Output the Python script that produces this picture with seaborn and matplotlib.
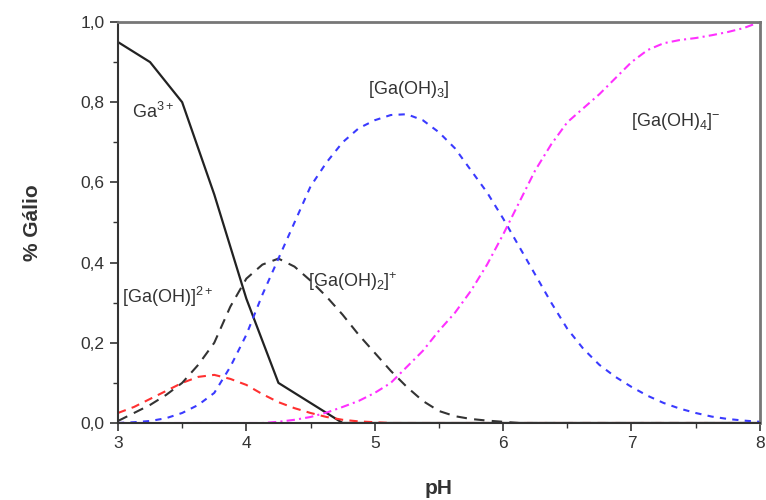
import numpy as np
import pandas as pd
import matplotlib
matplotlib.use("Agg")
import matplotlib.pyplot as plt
from matplotlib.ticker import MultipleLocator, FuncFormatter
import seaborn as sns

# dados (fração de espécies de gálio vs pH)
ph_ga3 = [3.0, 3.25, 3.5, 3.75, 4.0, 4.25, 4.5, 4.75, 5.0, 5.5, 6.0, 6.5, 7.0, 7.5, 8.0]
ga3 = [0.95, 0.90, 0.80, 0.57, 0.31, 0.10, 0.05, 0.0, 0.0, 0.0, 0.0, 0.0, 0.0, 0.0, 0.0]

ph = [3.0, 3.125, 3.25, 3.375, 3.5, 3.625, 3.75, 3.875,
      4.0, 4.125, 4.25, 4.375, 4.5, 4.625, 4.75, 4.875,
      5.0, 5.125, 5.25, 5.375, 5.5, 5.625, 5.75, 5.875,
      6.0, 6.125, 6.25, 6.375, 6.5, 6.625, 6.75, 6.875,
      7.0, 7.125, 7.25, 7.375, 7.5, 7.625, 7.75, 7.875, 8.0]
gaoh_red = [0.025, 0.04, 0.06, 0.08, 0.10, 0.115, 0.12, 0.11,
            0.095, 0.072, 0.052, 0.037, 0.025, 0.015, 0.008, 0.004,
            0.002, 0.0, 0.0, 0.0, 0.0, 0.0, 0.0, 0.0,
            0.0, 0.0, 0.0, 0.0, 0.0, 0.0, 0.0, 0.0,
            0.0, 0.0, 0.0, 0.0, 0.0, 0.0, 0.0, 0.0, 0.0]
gaoh2 = [0.005, 0.025, 0.045, 0.07, 0.10, 0.145, 0.20, 0.29,
         0.36, 0.395, 0.41, 0.39, 0.355, 0.315, 0.27, 0.22,
         0.175, 0.13, 0.09, 0.055, 0.03, 0.017, 0.01, 0.006,
         0.003, 0.0, 0.0, 0.0, 0.0, 0.0, 0.0, 0.0,
         0.0, 0.0, 0.0, 0.0, 0.0, 0.0, 0.0, 0.0, 0.0]
gaoh3 = [0.0, 0.002, 0.005, 0.012, 0.025, 0.045, 0.075, 0.14,
         0.22, 0.32, 0.41, 0.50, 0.59, 0.65, 0.70, 0.735,
         0.755, 0.768, 0.77, 0.755, 0.725, 0.685, 0.63, 0.575,
         0.51, 0.44, 0.37, 0.30, 0.235, 0.185, 0.145, 0.115,
         0.09, 0.068, 0.05, 0.036, 0.025, 0.016, 0.01, 0.006, 0.003]
gaoh4 = [0.0, 0.0, 0.0, 0.0, 0.0, 0.0, 0.0, 0.0,
         0.0, 0.0, 0.003, 0.008, 0.015, 0.026, 0.04, 0.055,
         0.075, 0.10, 0.14, 0.18, 0.23, 0.275, 0.33, 0.395,
         0.47, 0.55, 0.63, 0.695, 0.75, 0.785, 0.82, 0.86,
         0.90, 0.93, 0.947, 0.955, 0.96, 0.967, 0.975, 0.985, 1.0]

sns.set_style("ticks")
plt.rcParams['font.family'] = ['Liberation Sans', 'DejaVu Sans']
plt.rcParams['mathtext.fontset'] = 'custom'
plt.rcParams['mathtext.rm'] = 'Liberation Sans'
plt.rcParams['mathtext.it'] = 'Liberation Sans'

fig = plt.figure(figsize=(7.66, 5.0), dpi=100)
ax = fig.add_axes([0.154, 0.154, 0.838, 0.802])

sns.lineplot(x=ph_ga3, y=ga3, ax=ax, color='#222222', linewidth=1.6)
sns.lineplot(x=ph, y=gaoh_red, ax=ax, color='#ff3030', linewidth=1.5, linestyle=(0, (4, 3)))
sns.lineplot(x=ph, y=gaoh2, ax=ax, color='#333333', linewidth=1.5, linestyle=(0, (5, 3.5)))
sns.lineplot(x=ph, y=gaoh3, ax=ax, color='#3a3aff', linewidth=1.5, linestyle=(0, (3, 3)))
sns.lineplot(x=ph, y=gaoh4, ax=ax, color='#ff30ff', linewidth=1.5, linestyle=(0, (4, 2, 1, 2)))

ax.set_xlim(3, 8)
ax.set_ylim(0, 1.0)
ax.xaxis.set_major_locator(MultipleLocator(1))
ax.xaxis.set_minor_locator(MultipleLocator(0.5))
ax.yaxis.set_major_locator(MultipleLocator(0.2))
ax.yaxis.set_minor_locator(MultipleLocator(0.1))
ax.yaxis.set_major_formatter(FuncFormatter(lambda v, p: f"{v:.1f}".replace('.', ',')))

ax.tick_params(which='major', direction='out', length=6, width=1.2,
               labelsize=12.5, labelcolor='#333333', color='#333333')
ax.tick_params(which='minor', direction='out', length=3.5, width=1.0, color='#333333')
ax.tick_params(top=False, right=False, which='both')

for s in ['left', 'bottom']:
    ax.spines[s].set_color('#333333')
    ax.spines[s].set_linewidth(1.5)
for s in ['top', 'right']:
    ax.spines[s].set_color('#777777')
    ax.spines[s].set_linewidth(2)

ax.set_xlabel('pH', fontsize=15, fontweight='bold', color='#333333', labelpad=20)
ax.set_ylabel('% Gálio', fontsize=15, fontweight='bold', color='#333333', labelpad=28)

tc = '#333333'
ax.text(3.11, 0.76, r'Ga$\mathregular{^{3+}}$', fontsize=13, color=tc)
ax.text(3.03, 0.30, r'[Ga(OH)]$\mathregular{^{2+}}$', fontsize=13, color=tc)
ax.text(4.48, 0.34, r'[Ga(OH)$\mathregular{_2}$]$\mathregular{^{+}}$', fontsize=13, color=tc)
ax.text(4.95, 0.82, r'[Ga(OH)$\mathregular{_3}$]', fontsize=13, color=tc)
ax.text(7.0, 0.74, r'[Ga(OH)$\mathregular{_4}$]$\mathregular{^{-}}$', fontsize=13, color=tc)

fig.savefig('out.png', dpi=100)
